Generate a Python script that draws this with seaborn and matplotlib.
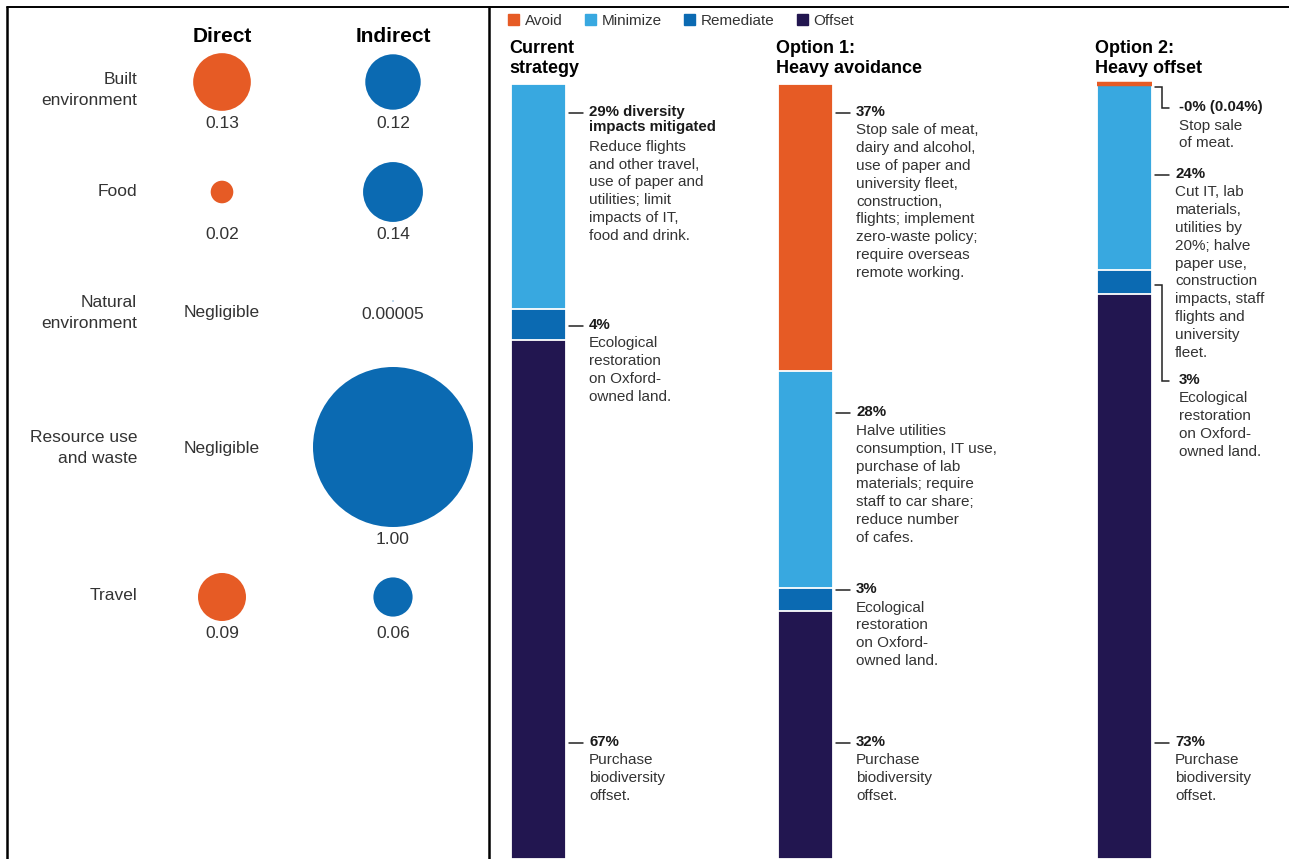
import numpy as np
import pandas as pd
import matplotlib
matplotlib.use("Agg")
import matplotlib.pyplot as plt
import matplotlib.patches as mpatches
from matplotlib.lines import Line2D
import seaborn as sns

# ---------------- data: biodiversity impact per category (relative) ----------------
impact_categories = ["Built\nenvironment", "Food", "Natural\nenvironment",
                     "Resource use\nand waste", "Travel"]
direct_impact = [0.13, 0.02, None, None, 0.09]
indirect_impact = [0.12, 0.14, 0.00005, 1.00, 0.06]
direct_labels = ["0.13", "0.02", "Negligible", "Negligible", "0.09"]
indirect_labels = ["0.12", "0.14", "0.00005", "1.00", "0.06"]

# ---------------- data: mitigation strategies (% of impact) ----------------
strategies = ["Current\nstrategy", "Option 1:\nHeavy avoidance", "Option 2:\nHeavy offset"]
components = ["Avoid", "Minimize", "Remediate", "Offset"]
avoid_pct = [0, 37, 0.04]
minimize_pct = [29, 28, 24]
remediate_pct = [4, 3, 3]
offset_pct = [67, 32, 73]

restoration_text = "Ecological\nrestoration\non Oxford-\nowned land."
offset_text = "Purchase\nbiodiversity\noffset."
# (headline, description, component index, label position in %, bracket?)
notes = [
    [("29% diversity\nimpacts mitigated",
      "Reduce flights\nand other travel,\nuse of paper and\nutilities; limit\nimpacts of IT,\nfood and drink.",
      1, 3.7, False),
     ("4%", restoration_text, 2, 31.2, False),
     ("67%", offset_text, 3, 85.0, False)],
    [("37%",
      "Stop sale of meat,\ndairy and alcohol,\nuse of paper and\nuniversity fleet,\nconstruction,\n"
      "flights; implement\nzero-waste policy;\nrequire overseas\nremote working.",
      0, 3.7, False),
     ("28%",
      "Halve utilities\nconsumption, IT use,\npurchase of lab\nmaterials; require\n"
      "staff to car share;\nreduce number\nof cafes.",
      1, 42.5, False),
     ("3%", restoration_text, 2, 65.3, False),
     ("32%", offset_text, 3, 85.0, False)],
    [("-0% (0.04%)", "Stop sale\nof meat.", 0, 3.1, True),
     ("24%",
      "Cut IT, lab\nmaterials,\nutilities by\n20%; halve\npaper use,\nconstruction\n"
      "impacts, staff\nflights and\nuniversity\nfleet.",
      1, 11.7, False),
     ("3%", restoration_text, 2, 38.3, True),
     ("73%", offset_text, 3, 85.0, False)],
]

# ---------------- style ----------------
ORANGE = "#E65B25"
LIGHT_BLUE = "#38A8E0"
BLUE = "#0B6AB2"
NAVY = "#221650"
comp_colors = [ORANGE, LIGHT_BLUE, BLUE, NAVY]
TEXT = "#333333"

sns.set_style("white")
plt.rcParams["font.family"] = ["Liberation Sans", "DejaVu Sans"]

W, H = 1289, 859
fig = plt.figure(figsize=(W / 100, H / 100), dpi=100)


def fx(px):
    return px / W


def fy(py):
    return 1 - py / H


# ---------------- frame ----------------
fig.add_artist(Line2D([fx(7), fx(7)], [0, fy(7)], color="black", lw=1.8))
fig.add_artist(Line2D([fx(7), 1], [fy(7), fy(7)], color="black", lw=1.4))
fig.add_artist(Line2D([fx(489), fx(489)], [0, fy(7)], color="black", lw=1.8))

# ---------------- left panel: bubble chart ----------------
ax_l = fig.add_axes([0, 0, fx(489), 1])
col_x = {"Direct": 222, "Indirect": 393}
row_y = [82, 192, 301, 447, 597]
row_label_y = [90, 192, 313, 448, 595]
MAX_DIAM_PX = 160  # bubble diameter for value 1.0
s_max = (MAX_DIAM_PX * 72 / 100) ** 2

records = []
for i, cat in enumerate(impact_categories):
    for col, vals in (("Direct", direct_impact), ("Indirect", indirect_impact)):
        if vals[i] is not None:
            records.append({"category": cat, "column": col, "value": vals[i],
                            "x": col_x[col], "y": row_y[i]})
bubbles = pd.DataFrame(records)

sns.scatterplot(data=bubbles, x="x", y="y", hue="column", size="value",
                palette={"Direct": ORANGE, "Indirect": BLUE},
                sizes=(0, s_max), size_norm=(0, 1), linewidth=0,
                legend=False, ax=ax_l)
ax_l.set_xlim(0, 489)
ax_l.set_ylim(H, 0)
ax_l.set_axis_off()

for col in ("Direct", "Indirect"):
    ax_l.text(col_x[col], 36, col, ha="center", va="center",
              fontsize=15, fontweight="bold", color="black")

for i, cat in enumerate(impact_categories):
    ax_l.text(137, row_label_y[i], cat, ha="right", va="center",
              multialignment="right", fontsize=12.5, color=TEXT, linespacing=1.55)
    present = [v for v in (direct_impact[i], indirect_impact[i]) if v is not None]
    max_r = MAX_DIAM_PX / 2 * np.sqrt(max(present))
    label_y = row_y[i] + max_r + 13
    for col, vals, labels in (("Direct", direct_impact, direct_labels),
                              ("Indirect", indirect_impact, indirect_labels)):
        y = label_y if vals[i] is not None else row_label_y[i]
        ax_l.text(col_x[col], y, labels[i], ha="center", va="center",
                  fontsize=12.5, color=TEXT)

# ---------------- right panel: stacked strategy bars ----------------
handles = [mpatches.Patch(color=c, label=l) for c, l in zip(comp_colors, components)]
fig.legend(handles=handles, loc="upper left", bbox_to_anchor=(fx(508), fy(14)),
           ncol=4, frameon=False, fontsize=11, handlelength=0.75, handleheight=0.75,
           handletextpad=0.35, columnspacing=1.45, borderpad=0, borderaxespad=0,
           labelcolor=TEXT)

bar_left = [511, 778, 1097]
BAR_W = 55
BAR_TOP, BAR_BOTTOM = 84, 859
px_per_pct = (BAR_BOTTOM - BAR_TOP) / 100.0

values = np.array([avoid_pct, minimize_pct, remediate_pct, offset_pct]).T

for i, strat in enumerate(strategies):
    fig.text(fx(bar_left[i] - 2), fy(40), strat, ha="left", va="top",
             fontsize=13, fontweight="bold", color="black", linespacing=1.25)

    ax = fig.add_axes([fx(bar_left[i]), fy(BAR_BOTTOM), BAR_W / W,
                       (BAR_BOTTOM - BAR_TOP) / H])
    vals = values[i]
    cum = np.cumsum(vals)
    # overlapping cumulative bars, longest first, give the stacked look
    for j in reversed(range(len(components))):
        if vals[j] <= 0:
            continue
        n_before = len(ax.patches)
        sns.barplot(x=[strat], y=[cum[j]], color=comp_colors[j], saturation=1,
                    width=1, edgecolor="white", linewidth=1.3, errorbar=None, ax=ax)
        if vals[j] * px_per_pct < 3:
            for p in ax.patches[n_before:]:
                p.set_edgecolor(comp_colors[j])
                p.set_linewidth(3.2)
                p.set_clip_on(False)
    ax.set_xlim(-0.5, 0.5)
    ax.set_ylim(100, 0)
    ax.set_axis_off()

    def xd(px):
        return 0.5 + px / BAR_W

    for head, desc, comp, ylab, bracket in notes[i]:
        seg_mid = cum[comp] - vals[comp] / 2
        if bracket:
            ax.plot([xd(3), xd(10), xd(10), xd(17)],
                    [seg_mid + 0.4, seg_mid + 0.4, ylab, ylab],
                    color="#222222", lw=1.1, clip_on=False, solid_joinstyle="miter")
            tx = xd(27)
        else:
            ax.plot([xd(3), xd(17)], [ylab, ylab], color="#222222", lw=1.1,
                    clip_on=False)
            tx = xd(23)
        n_head = head.count("\n") + 1
        ax.text(tx, ylab - 8 / px_per_pct, head, ha="left", va="top",
                fontsize=10.8, fontweight="bold", color="#1a1a1a",
                linespacing=1.08, clip_on=False)
        ax.text(tx, ylab + (n_head * 16.5 - 6) / px_per_pct, desc, ha="left",
                va="top", fontsize=11, color=TEXT, linespacing=1.35,
                clip_on=False)

fig.savefig("out.png", dpi=100, facecolor="white")
